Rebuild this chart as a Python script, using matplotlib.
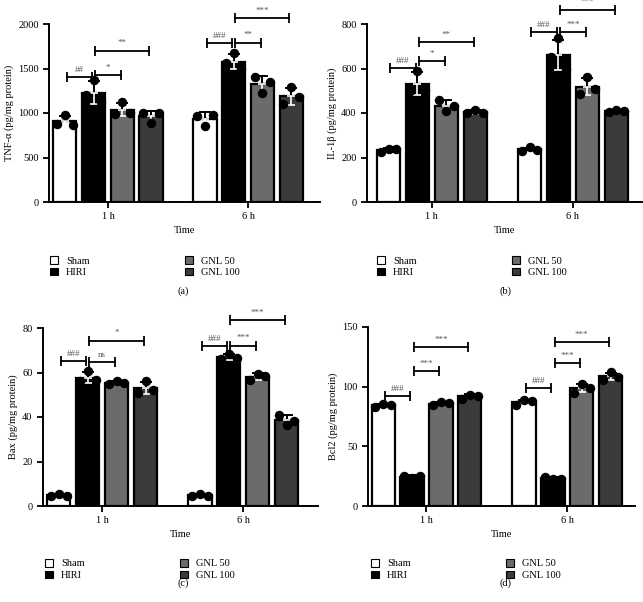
import numpy as np
import matplotlib.pyplot as plt
from matplotlib.patches import Patch

plt.rcParams['font.family'] = ['Liberation Serif', 'DejaVu Serif']

groups = ['Sham', 'HIRI', 'GNL 50', 'GNL 100']
times = ['1 h', '6 h']
colors = ['white', 'black', '#6b6b6b', '#3b3b3b']

# individual points per bar (left, centre, right), order: 1h x4, 6h x4
tnf_pts = [[880, 980, 870], [1200, 1370, 1120], [990, 1120, 1000], [1000, 890, 1000],
           [970, 850, 980], [1560, 1670, 1500], [1400, 1230, 1350], [1100, 1290, 1180]]
il1b_pts = [[225, 240, 238], [500, 590, 505], [460, 410, 430], [400, 415, 400],
            [228, 245, 235], [650, 735, 600], [485, 560, 510], [405, 415, 410]]
bax_pts = [[4.5, 5.5, 4.6], [56.0, 60.5, 56.5], [55.0, 56.0, 55.5], [51.0, 56.0, 52.0],
           [4.5, 5.5, 4.6], [66.0, 68.5, 66.5], [56.5, 59.5, 58.5], [41.0, 36.5, 38.0]]
bcl2_pts = [[83.0, 85.5, 84.5], [25.5, 23.5, 25.0], [84.5, 87.0, 86.0], [90.0, 93.0, 92.5],
            [85.0, 88.5, 88.0], [24.5, 22.5, 23.0], [95.0, 102.0, 99.0], [106.0, 112.0, 108.0]]

# significance brackets: (bar from, bar to, height, label)
tnf_sig = [(0, 1, 1400, '##'), (1, 2, 1427, '*'), (1, 3, 1700, '**'),
           (4, 5, 1783, '###'), (5, 6, 1790, '**'), (5, 7, 2064, '***')]
il1b_sig = [(0, 1, 602, '###'), (1, 2, 632, '*'), (1, 3, 719, '**'),
            (4, 5, 764, '###'), (5, 6, 764, '***'), (5, 7, 865, '***')]
bax_sig = [(0, 1, 65.0, '###'), (1, 2, 64.7, 'ns'), (1, 3, 74.3, '*'),
           (4, 5, 71.7, '###'), (5, 6, 72.0, '***'), (5, 7, 83.5, '***')]
bcl2_sig = [(0, 1, 91.8, '###'), (1, 2, 112.8, '***'), (1, 3, 133.2, '***'),
            (4, 5, 98.8, '###'), (5, 6, 119.8, '***'), (5, 7, 137.4, '***')]

W, H = 643, 602
fig = plt.figure(figsize=(W / 100, H / 100), dpi=100)


def px_rect(x0, x1, ytop, ybot):
    return [x0 / W, 1 - ybot / H, (x1 - x0) / W, (ybot - ytop) / H]


panels = [
    dict(pts=tnf_pts, sig=tnf_sig, ylabel='TNF-α (pg/mg protein)', ymax=2000, step=500,
         rect=px_rect(49, 320, 24, 202), xlim=(-0.421, 1.514), tag='(a)', leg=(45, 251), tagpos=(183, 291)),
    dict(pts=il1b_pts, sig=il1b_sig, ylabel='IL-1β (pg/mg protein)', ymax=800, step=200,
         rect=px_rect(367, 642, 24, 202), xlim=(-0.46, 1.49), tag='(b)', leg=(372, 251), tagpos=(505, 291)),
    dict(pts=bax_pts, sig=bax_sig, ylabel='Bax (pg/mg protein)', ymax=80, step=20,
         rect=px_rect(43, 318, 328, 506), xlim=(-0.42, 1.53), tag='(c)', leg=(40, 554), tagpos=(183, 583)),
    dict(pts=bcl2_pts, sig=bcl2_sig, ylabel='Bcl2 (pg/mg protein)', ymax=150, step=50,
         rect=px_rect(368, 635, 327, 506), xlim=(-0.415, 1.48), tag='(d)', leg=(366, 554), tagpos=(506, 583)),
]

spacing = 0.205
bw = 0.165

for p in panels:
    ax = fig.add_axes(p['rect'])
    xs = []
    for g in range(2):
        for i in range(4):
            xs.append(g + (i - 1.5) * spacing)
    xs = np.array(xs)
    for k, x in enumerate(xs):
        vals = np.array(p['pts'][k])
        m = vals.mean()
        sd = vals.std(ddof=1)
        ax.bar(x, m, width=bw, color=colors[k % 4], edgecolor='black', linewidth=1.6, zorder=2)
        ax.errorbar(x, m, yerr=[[0], [sd]], fmt='none', ecolor='black', elinewidth=1.4,
                    capsize=4, capthick=1.4, zorder=3)
        ax.errorbar(x, m, yerr=[[sd], [0]], fmt='none', ecolor='white', elinewidth=1.2,
                    capsize=3, capthick=1.2, zorder=3)
        ax.plot(x + np.array([-1, 0, 1]) * bw / 3, vals, 'o', color='black', ms=5.8,
                zorder=4, clip_on=False)
    for a, b, y, lab in p['sig']:
        x1, x2 = xs[a] + 0.012, xs[b] - 0.012
        ax.plot([x1, x2], [y, y], color='black', lw=1.3, zorder=5, clip_on=False)
        ax.plot([x1, x2], [y, y], '|', color='black', ms=7, mew=1.3, zorder=5, clip_on=False)
        ax.annotate(lab, ((x1 + x2) / 2, y), xytext=(0, 2.5), textcoords='offset points',
                    ha='center', va='bottom', fontsize=6.5, color='#555555', annotation_clip=False)

    ax.set_xlim(*p['xlim'])
    ax.set_ylim(0, p['ymax'])
    ax.set_yticks(np.arange(0, p['ymax'] + 1, p['step']))
    ax.set_xticks([0, 1])
    ax.set_xticklabels(times)
    ax.set_xlabel('Time', fontsize=7.5, labelpad=3)
    ax.set_ylabel(p['ylabel'], fontsize=7.5, labelpad=3)
    ax.tick_params(labelsize=7.5, width=1.3, length=4, direction='out')
    for s in ['top', 'right']:
        ax.spines[s].set_visible(False)
    for s in ['left', 'bottom']:
        ax.spines[s].set_linewidth(1.4)

    handles = [Patch(facecolor=colors[i], edgecolor='black', linewidth=0.8) for i in range(4)]
    lx, ly = p['leg']
    fig.legend(handles, groups, loc='upper left', bbox_to_anchor=(lx / W, 1 - ly / H),
               ncol=2, frameon=False, fontsize=7.5, handlelength=0.7, handleheight=0.7,
               handletextpad=0.8, columnspacing=9.2, labelspacing=0.2, borderpad=0)
    tx, ty = p['tagpos']
    fig.text(tx / W, 1 - ty / H, p['tag'], ha='center', va='center', fontsize=7.5)

fig.savefig('out.png', dpi=100)
